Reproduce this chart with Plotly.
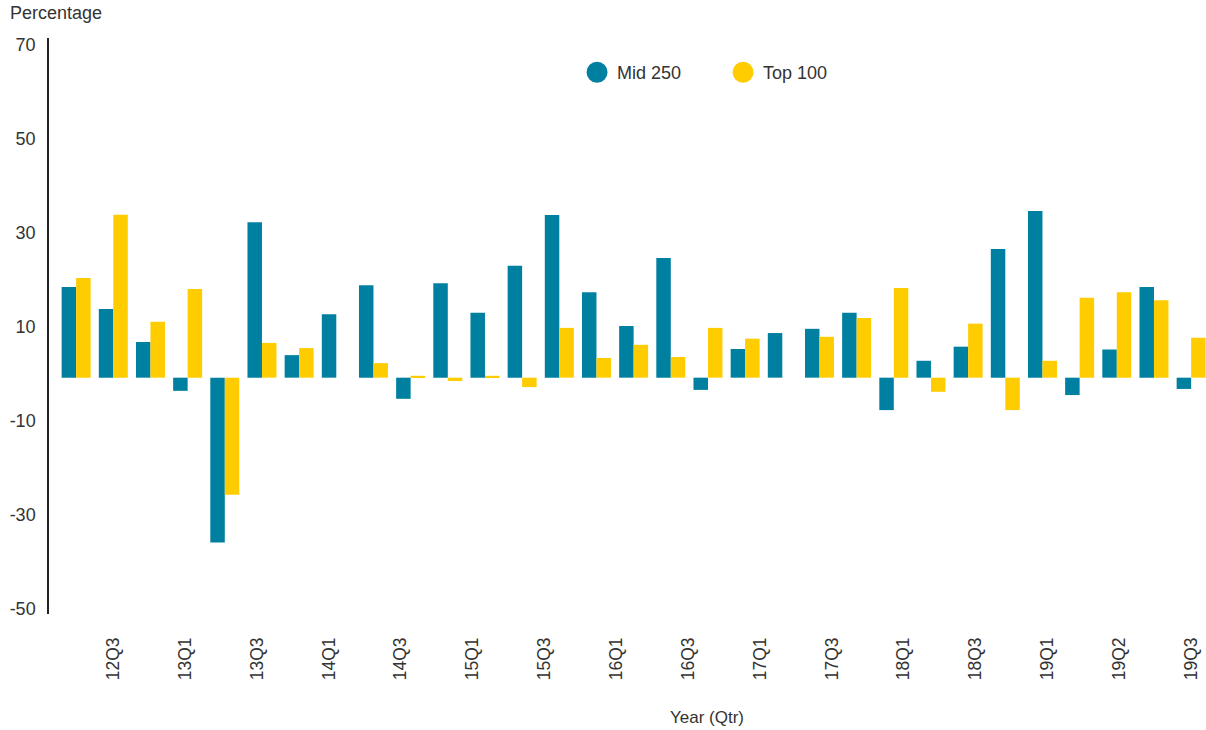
import plotly.graph_objects as go

# Data (quarters 12Q2 .. 19Q4, 31 periods)
quarters = ["12Q2", "12Q3", "12Q4", "13Q1", "13Q2", "13Q3", "13Q4", "14Q1", "14Q2", "14Q3",
            "14Q4", "15Q1", "15Q2", "15Q3", "15Q4", "16Q1", "16Q2", "16Q3", "16Q4", "17Q1",
            "17Q2", "17Q3", "17Q4", "18Q1", "18Q2", "18Q3", "18Q4", "19Q1", "19Q2", "19Q3", "19Q4"]
mid250 = [19.3, 14.6, 7.6, -2.8, -35.1, 33.1, 4.8, 13.5, 19.7, -4.5,
          20.1, 13.8, 23.8, 34.6, 18.2, 11.0, 25.5, -2.6, 6.1, 9.5,
          10.4, 13.8, -6.9, 3.6, 6.6, 27.4, 35.5, -3.7, 6.0, 19.3, -2.4]
top100 = [21.2, 34.7, 11.9, 18.9, -24.9, 7.4, 6.3, 0.0, 3.1, 0.4,
          -0.7, 0.4, -2.0, 10.6, 4.2, 7.0, 4.4, 10.6, 8.3, 0.0,
          8.7, 12.7, 19.1, -3.0, 11.5, -6.9, 3.6, 17.0, 18.2, 16.5, 8.5]
tick_labels = ["12Q3", "13Q1", "13Q3", "14Q1", "14Q3", "15Q1", "15Q3", "16Q1",
               "16Q3", "17Q1", "17Q3", "18Q1", "18Q3", "19Q1", "19Q2", "19Q3"]
y_ticks = [70, 50, 30, 10, -10, -30, -50]
series_names = ["Mid 250", "Top 100"]
colors = ["#0080a0", "#ffcc00"]

FONT = "Liberation Sans, Arial, sans-serif"
TXT = "#333333"

idx = list(range(len(quarters)))
n_lab = len(tick_labels)
tickvals = [1 + i * (len(quarters) - 2) / (n_lab - 1) for i in range(n_lab)]

fig = go.Figure()
for name, vals, col in zip(series_names, [mid250, top100], colors):
    fig.add_trace(go.Bar(x=idx, y=vals, name=name, marker_color=col,
                         marker_line_width=0, showlegend=False,
                         customdata=quarters,
                         hovertemplate="%{customdata}: %{y}<extra>" + name + "</extra>"))
# legend entries with circular symbols
for name, col in zip(series_names, colors):
    fig.add_trace(go.Scatter(x=[None], y=[None], mode="markers", name=name,
                             marker=dict(color=col, size=16, symbol="circle",
                                         line=dict(color=col, width=5))))

fig.update_layout(
    width=1206, height=730,
    margin=dict(l=49, r=0, t=38, b=116, autoexpand=False),
    paper_bgcolor="white", plot_bgcolor="white",
    barmode="group", bargap=0.22, bargroupgap=0,
    font=dict(family=FONT, size=17, color=TXT),
    showlegend=True,
    legend=dict(orientation="h", x=0.4564, xanchor="left", y=0.94, yanchor="middle",
                entrywidth=101, entrywidthmode="pixels", itemsizing="trace",
                font=dict(family=FONT, size=18, color=TXT), bgcolor="rgba(0,0,0,0)"),
    xaxis=dict(range=[-0.73, 30.4], tickmode="array", tickvals=tickvals, ticktext=tick_labels,
               tickangle=-90, ticks="", showline=False, showgrid=False, zeroline=False,
               automargin=False,
               tickfont=dict(family=FONT, size=17.5, color=TXT), ticklabelstandoff=19),
    yaxis=dict(range=[-50.3, 72.3], tickmode="array", tickvals=y_ticks,
               ticktext=[str(v) for v in y_ticks],
               ticks="", showline=True, linecolor="#222222", linewidth=1.5,
               automargin=False,
               showgrid=False, zeroline=False, ticklabelshift=-4, ticklabelstandoff=8,
               tickfont=dict(family=FONT, size=18, color=TXT)),
    annotations=[
        dict(text="Percentage", xref="paper", yref="paper", x=-41/1157, y=1 + (38-13)/576,
             xanchor="left", yanchor="middle", showarrow=False,
             font=dict(family=FONT, size=18, color=TXT)),
        dict(text="Year (Qtr)", xref="paper", yref="paper", x=(707-49)/1157, y=-(717-614)/576,
             xanchor="center", yanchor="middle", showarrow=False,
             font=dict(family=FONT, size=17, color=TXT)),
    ],
)

fig.write_html("out.html", config={"displayModeBar": False},
               post_script="document.body.style.margin='0';document.body.style.overflow='hidden';")
